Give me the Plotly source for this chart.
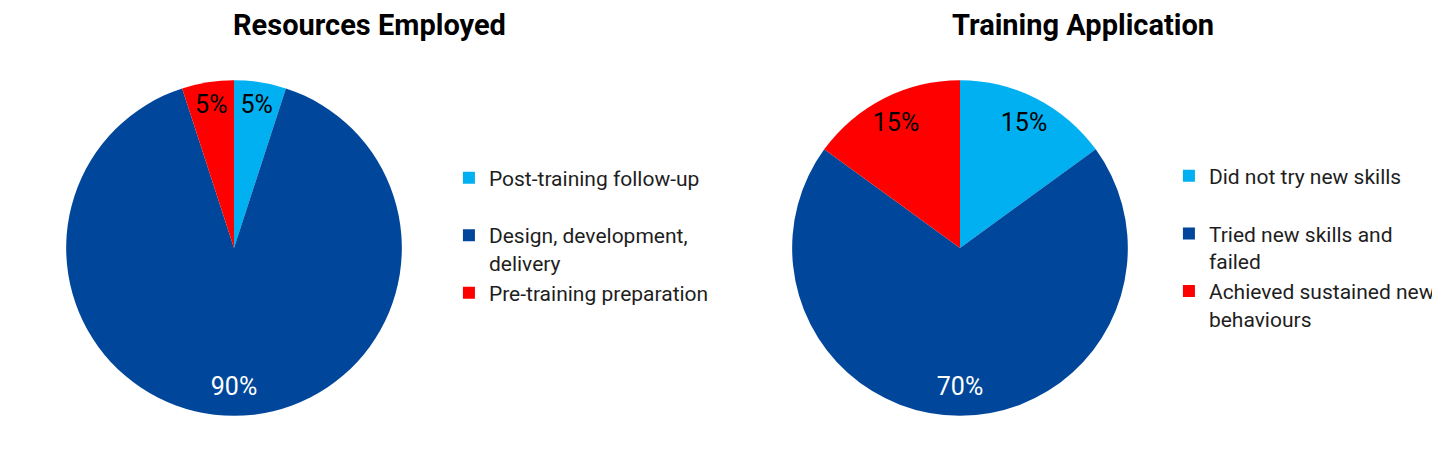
import plotly.graph_objects as go

# Veriler
resources_labels = ["Post-training follow-up<br> ", "Design, development,<br>delivery", "Pre-training preparation<br> "]
resources_values = [5, 90, 5]

application_labels = ["Did not try new skills<br> ", "Tried new skills and<br>failed", "Achieved sustained new<br>behaviours"]
application_values = [15, 70, 15]

slice_colors = ["#00B0F0", "#00479B", "#FF0000"]
text_colors = ["black", "white", "black"]

FONT = "Roboto, sans-serif"

# sayfa gövdesi 8px kaydırıyor, konumlar buna göre
left_domain = dict(x=[0.0403, 0.2736], y=[0.0997, 0.8407])
right_domain = dict(x=[0.5444, 0.7778], y=[0.0997, 0.8407])

fig = go.Figure()


def add_pie(labels, values, domain, legend_name):
    # Dilimler (yazısız)
    fig.add_trace(go.Pie(
        labels=labels,
        values=values,
        marker=dict(colors=slice_colors),
        sort=False,
        direction="clockwise",
        rotation=0,
        textinfo="none",
        domain=domain,
        legend=legend_name,
        hoverinfo="label+percent",
    ))
    # Yüzde etiketleri: şeffaf halka, yazılar dış kenara yakın dursun
    fig.add_trace(go.Pie(
        labels=labels,
        values=values,
        marker=dict(colors=["rgba(0,0,0,0)"] * len(values)),
        hole=0.68,
        sort=False,
        direction="clockwise",
        rotation=0,
        texttemplate="%{percent:.0%}",
        textposition="inside",
        insidetextorientation="horizontal",
        textfont=dict(color=text_colors, size=25, family=FONT),
        domain=domain,
        showlegend=False,
        hoverinfo="skip",
    ))


add_pie(resources_labels, resources_values, left_domain, "legend")
add_pie(application_labels, application_values, right_domain, "legend2")

legend_style = dict(
    font=dict(size=21, family=FONT, color="#1e1e1e"),
    valign="top",
    yanchor="top",
    xanchor="left",
    bgcolor="rgba(0,0,0,0)",
)

fig.update_layout(
    width=1440,
    height=453,
    margin=dict(l=0, r=0, t=0, b=0),
    paper_bgcolor="white",
    plot_bgcolor="white",
    font=dict(family=FONT),
    uniformtext=dict(minsize=25, mode="show"),
    legend=dict(x=0.3062, y=0.670, **legend_style),
    legend2=dict(x=0.8062, y=0.674, **legend_style),
    annotations=[
        dict(text="<b>Resources Employed</b>", x=0.2507, y=0.962, xref="paper", yref="paper",
             xanchor="center", yanchor="middle", showarrow=False,
             font=dict(size=29, family=FONT, color="black")),
        dict(text="<b>Training Application</b>", x=0.7465, y=0.962, xref="paper", yref="paper",
             xanchor="center", yanchor="middle", showarrow=False,
             font=dict(size=29, family=FONT, color="black")),
    ],
)

fig.write_html("out.html")
